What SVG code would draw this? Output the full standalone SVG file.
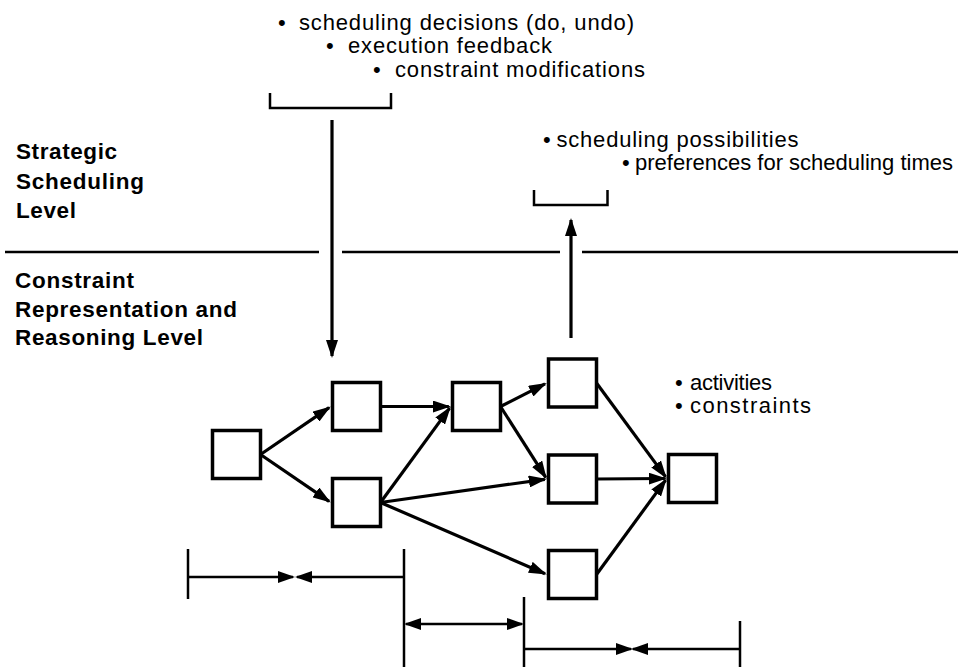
<svg xmlns="http://www.w3.org/2000/svg" width="960" height="669" viewBox="0 0 960 669">
<style>
  .box { fill: #fff; stroke: #000; stroke-width: 3.5; }
  .edge { fill: none; stroke: #000; stroke-width: 3.2; marker-end: url(#ah); }
  .ln { fill: none; stroke: #000; stroke-width: 2.5; }
  .dim { fill: none; stroke: #000; stroke-width: 2.5; }
  .t { font-family: "Liberation Sans", Arial, Helvetica, sans-serif; font-size: 22px; fill: #000; }
  .b { font-family: "Liberation Sans", Arial, Helvetica, sans-serif; font-size: 22.5px; font-weight: bold; fill: #000; }
</style>
<defs>
  <marker id="ah" markerUnits="userSpaceOnUse" markerWidth="18" markerHeight="12" viewBox="0 0 18 12" refX="16" refY="6" orient="auto">
    <path d="M0,0 L18,6 L0,12 z" fill="#000"/>
  </marker>
  <marker id="dh" markerUnits="userSpaceOnUse" markerWidth="17" markerHeight="12" viewBox="0 0 17 12" refX="15" refY="6" orient="auto-start-reverse">
    <path d="M0,0 L17,6 L0,12 z" fill="#000"/>
  </marker>
</defs>
<rect width="960" height="669" fill="#fff"/>

<g id="labels">
  <text class="t" x="278" y="30">•</text>
  <text class="t" x="299" y="30" textLength="335" lengthAdjust="spacing">scheduling decisions (do, undo)</text>
  <text class="t" x="326" y="53">•</text>
  <text class="t" x="348" y="53" textLength="204" lengthAdjust="spacing">execution feedback</text>
  <text class="t" x="373" y="77">•</text>
  <text class="t" x="395" y="77" textLength="250" lengthAdjust="spacing">constraint modifications</text>

  <text class="t" x="543" y="147">•</text>
  <text class="t" x="556.5" y="147" textLength="242" lengthAdjust="spacing">scheduling possibilities</text>
  <text class="t" x="622" y="170">•</text>
  <text class="t" x="635" y="170" textLength="318" lengthAdjust="spacingAndGlyphs">preferences for scheduling times</text>

  <text class="t" x="675" y="390">•</text>
  <text class="t" x="690" y="390" textLength="82" lengthAdjust="spacing">activities</text>
  <text class="t" x="675" y="413">•</text>
  <text class="t" x="690" y="413" textLength="121" lengthAdjust="spacing">constraints</text>

  <text class="b" x="16" y="159" textLength="101" lengthAdjust="spacing">Strategic</text>
  <text class="b" x="16" y="189" textLength="128" lengthAdjust="spacing">Scheduling</text>
  <text class="b" x="16" y="218" textLength="60" lengthAdjust="spacing">Level</text>
  <text class="b" x="15" y="288" textLength="119" lengthAdjust="spacing">Constraint</text>
  <text class="b" x="15" y="317" textLength="222" lengthAdjust="spacing">Representation and</text>
  <text class="b" x="15" y="345" textLength="188" lengthAdjust="spacing">Reasoning Level</text>
</g>

<g id="separator">
  <path class="ln" d="M5,252 H319 M342,252 H560 M582,252 H958"/>
</g>

<g id="brackets">
  <path class="ln" d="M270,93 V108 H391 V93"/>
  <path class="ln" d="M534,190 V205 H607.5 V190"/>
</g>

<g id="nodes">
  <g id="n1"><rect class="box" x="212.5" y="430.5" width="48" height="48"/></g>
  <g id="n2"><rect class="box" x="332.5" y="382.5" width="48" height="48"/></g>
  <g id="n3"><rect class="box" x="332.5" y="478.5" width="48" height="48"/></g>
  <g id="n4"><rect class="box" x="452.5" y="382.5" width="48" height="48"/></g>
  <g id="n5"><rect class="box" x="548.5" y="359" width="48" height="48"/></g>
  <g id="n6"><rect class="box" x="548.5" y="455" width="48" height="48"/></g>
  <g id="n7"><rect class="box" x="548.5" y="550.5" width="48" height="48"/></g>
  <g id="n8"><rect class="box" x="668.5" y="454.5" width="48" height="48"/></g>
</g>

<g id="connectors">
  <line class="edge" x1="332" y1="120" x2="332" y2="356"/>
  <line class="edge" x1="571" y1="338" x2="571" y2="220"/>
  <line class="edge" x1="260.5" y1="454.5" x2="329.1" y2="407.6"/>
  <line class="edge" x1="260.5" y1="454.5" x2="329.1" y2="501.4"/>
  <line class="edge" x1="380.5" y1="406.5" x2="448.8" y2="406.5"/>
  <line class="edge" x1="380.5" y1="502.5" x2="449.6" y2="408.1"/>
  <line class="edge" x1="380.5" y1="502.5" x2="544.8" y2="479.3"/>
  <line class="edge" x1="380.5" y1="502.5" x2="545" y2="573.7"/>
  <line class="edge" x1="500.5" y1="406.5" x2="545" y2="383.9"/>
  <line class="edge" x1="500.5" y1="406.5" x2="545.7" y2="477.3"/>
  <line class="edge" x1="596.5" y1="383" x2="665.6" y2="476.9"/>
  <line class="edge" x1="596.5" y1="479" x2="664.8" y2="478.5"/>
  <line class="edge" x1="596.5" y1="574.5" x2="665.6" y2="480.1"/>
</g>

<g id="dimensions">
  <path class="dim" d="M188,549 V599"/>
  <path class="dim" d="M404,549 V667"/>
  <path class="dim" d="M524,597 V667"/>
  <path class="dim" d="M740,621 V667"/>
  <line class="dim" x1="188" y1="577" x2="293" y2="577" marker-end="url(#dh)"/>
  <line class="dim" x1="404" y1="577" x2="297" y2="577" marker-end="url(#dh)"/>
  <line class="dim" x1="406" y1="624" x2="522" y2="624" marker-start="url(#dh)" marker-end="url(#dh)"/>
  <line class="dim" x1="524" y1="649" x2="631" y2="649" marker-end="url(#dh)"/>
  <line class="dim" x1="740" y1="649" x2="633" y2="649" marker-end="url(#dh)"/>
</g>
</svg>
